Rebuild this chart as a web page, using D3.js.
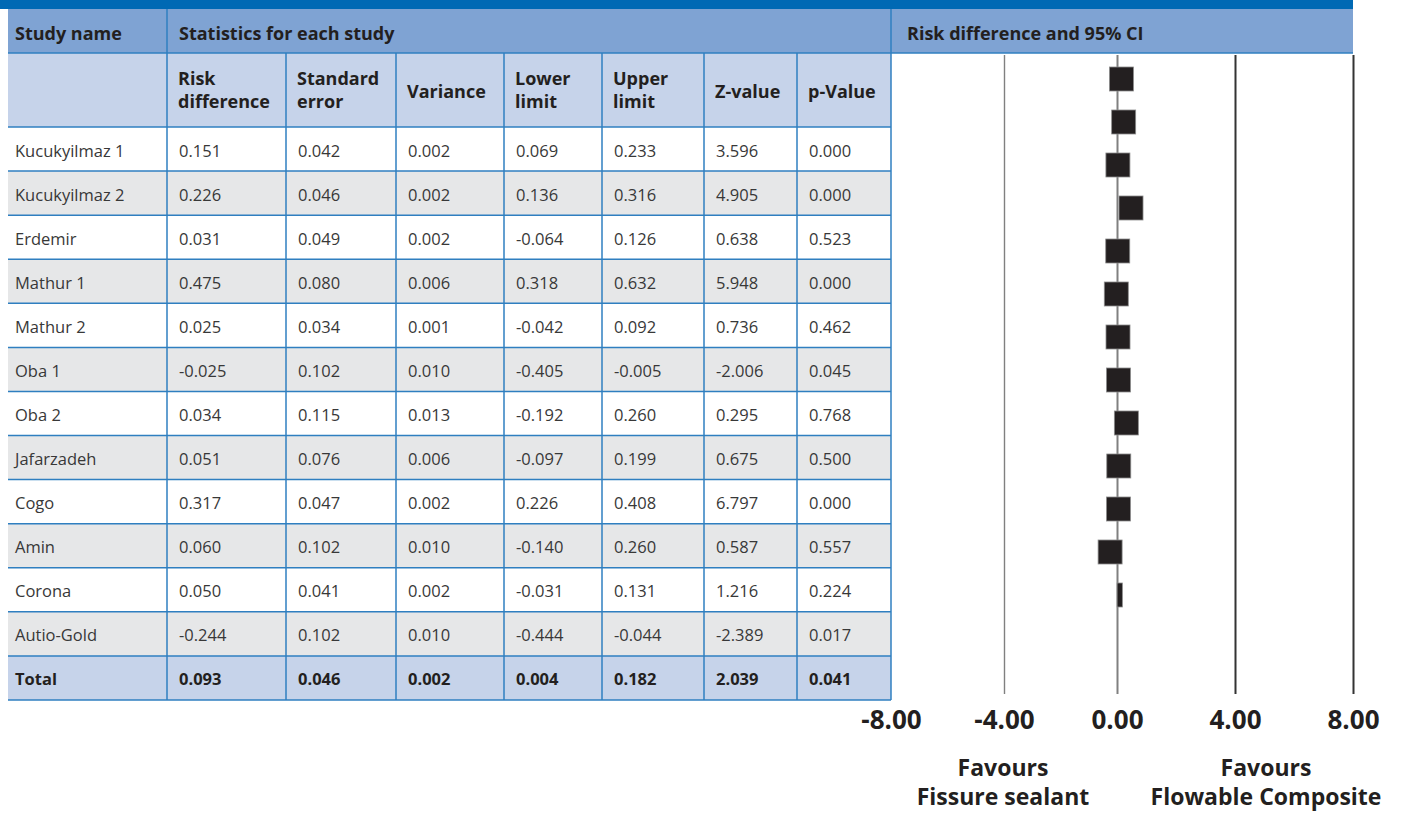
<!DOCTYPE html>
<html>
<head>
<meta charset="utf-8">
<script src="https://cdn.jsdelivr.net/npm/d3@7"></script>
<style>
  html, body { margin: 0; padding: 0; background: #fff; }
  svg { display: block; font-family: "Open Sans", "Noto Sans", sans-serif; }
</style>
</head>
<body>
<svg id="chart" width="1401" height="814"></svg>
<script>
// ---- Study data ----
const studies = ["Kucukyilmaz 1", "Kucukyilmaz 2", "Erdemir", "Mathur 1", "Mathur 2", "Oba 1",
  "Oba 2", "Jafarzadeh", "Cogo", "Amin", "Corona", "Autio-Gold"];
const riskDiff   = [0.151, 0.226, 0.031, 0.475, 0.025, -0.025, 0.034, 0.051, 0.317, 0.060, 0.050, -0.244];
const stdError   = [0.042, 0.046, 0.049, 0.080, 0.034, 0.102, 0.115, 0.076, 0.047, 0.102, 0.041, 0.102];
const variance   = [0.002, 0.002, 0.002, 0.006, 0.001, 0.010, 0.013, 0.006, 0.002, 0.010, 0.002, 0.010];
const lowerLimit = [0.069, 0.136, -0.064, 0.318, -0.042, -0.405, -0.192, -0.097, 0.226, -0.140, -0.031, -0.444];
const upperLimit = [0.233, 0.316, 0.126, 0.632, 0.092, -0.005, 0.260, 0.199, 0.408, 0.260, 0.131, -0.044];
const zValue     = [3.596, 4.905, 0.638, 5.948, 0.736, -2.006, 0.295, 0.675, 6.797, 0.587, 1.216, -2.389];
const pValue     = [0.000, 0.000, 0.523, 0.000, 0.462, 0.045, 0.768, 0.500, 0.000, 0.557, 0.224, 0.017];

// Pooled estimate
const totalLabel = "Total";
const totalValues = [0.093, 0.046, 0.002, 0.004, 0.182, 2.039, 0.041];

const columnHeaders = [["Risk", "difference"], ["Standard", "error"], ["Variance"], ["Lower", "limit"],
  ["Upper", "limit"], ["Z-value"], ["p-Value"]];
const axisTicks = [-8, -4, 0, 4, 8];
const favourLeft = ["Favours", "Fissure sealant"];
const favourRight = ["Favours", "Flowable Composite"];

// ---- Layout ----
const colEdges = [8, 167, 286, 396, 504, 602, 704, 797, 891];
const plotRight = 1353;
const C = {
  bar: "#0069b4", head1: "#7fa3d3", head2: "#c6d3ea", grey: "#e6e7e8",
  line: "#2f7fc0", text: "#231f20", body: "#383838", mark: "#231f20"
};

const fmtLocale = d3.formatLocale({ decimal: ".", thousands: ",", grouping: [3], currency: ["", ""], minus: "-" });
const f3 = fmtLocale.format(".3f");
const f2 = fmtLocale.format(".2f");

const svg = d3.select("#chart");

const rows = studies.map((s, i) => ({
  name: s,
  values: [riskDiff[i], stdError[i], variance[i], lowerLimit[i], upperLimit[i], zValue[i], pValue[i]],
  total: false
}));
rows.push({ name: totalLabel, values: totalValues, total: true });

// table body rows
const yRow = d3.scaleBand().domain(rows.map(r => r.name)).range([127, 700]).padding(0);

// ---- Header bands ----
svg.append("rect").attr("x", 0).attr("y", 0).attr("width", plotRight).attr("height", 9).attr("fill", C.bar);
svg.append("rect").attr("x", colEdges[0]).attr("y", 9).attr("width", plotRight - colEdges[0]).attr("height", 44).attr("fill", C.head1);
svg.append("rect").attr("x", colEdges[0]).attr("y", 53).attr("width", colEdges[8] - colEdges[0]).attr("height", 74).attr("fill", C.head2);

const headText = svg.append("g").attr("fill", C.text).attr("font-weight", 700).attr("font-size", 18);
headText.append("text").attr("x", 15).attr("y", 40).text("Study name");
headText.append("text").attr("x", colEdges[1] + 12).attr("y", 40).text("Statistics for each study");
headText.append("text").attr("x", colEdges[8] + 16).attr("y", 40).text("Risk difference and 95% CI");

columnHeaders.forEach((lines, j) => {
  const t = headText.append("text").attr("x", colEdges[j + 1] + 11);
  if (lines.length === 1) {
    t.attr("y", 98).text(lines[0]);
  } else {
    lines.forEach((l, k) => t.append("tspan").attr("x", colEdges[j + 1] + 11).attr("y", 85 + k * 23).text(l));
  }
});

// ---- Row backgrounds ----
svg.append("g").selectAll("rect").data(rows).join("rect")
  .attr("x", colEdges[0]).attr("width", colEdges[8] - colEdges[0])
  .attr("y", d => yRow(d.name)).attr("height", yRow.bandwidth())
  .attr("fill", (d, i) => d.total ? C.head2 : (i % 2 ? C.grey : "#ffffff"));

// ---- Row text ----
const body = svg.append("g").attr("font-size", 16.5);
const rowG = body.selectAll("g").data(rows).join("g")
  .attr("transform", d => `translate(0,${yRow(d.name) + yRow.bandwidth() / 2 + 7.5})`)
  .attr("font-weight", d => d.total ? 700 : 400)
  .attr("fill", d => d.total ? C.text : C.body);
rowG.append("text").attr("x", 15).text(d => d.name);
rowG.selectAll("text.v").data(d => d.values).join("text").attr("class", "v")
  .attr("x", (v, j) => colEdges[j + 1] + 12).text(v => f3(v));

// ---- Grid lines of the table ----
const grid = svg.append("g").attr("stroke", C.line).attr("stroke-width", 1.5).attr("fill", "none");
// horizontal
[53, 127].concat(rows.map(r => yRow(r.name) + yRow.bandwidth())).forEach(y => {
  grid.append("line").attr("x1", colEdges[0]).attr("x2", colEdges[8]).attr("y1", y).attr("y2", y);
});
grid.append("line").attr("x1", colEdges[8]).attr("x2", plotRight).attr("y1", 53).attr("y2", 53);
// vertical: first divider runs the full height, the rest start below the top header
grid.append("line").attr("x1", colEdges[1]).attr("x2", colEdges[1]).attr("y1", 9).attr("y2", 700);
colEdges.slice(2, 8).forEach(x => {
  grid.append("line").attr("x1", x).attr("x2", x).attr("y1", 53).attr("y2", 700);
});

// ---- Forest plot ----
const x = d3.scaleLinear().domain([-8, 0, 8]).range([colEdges[8], 1117, plotRight]);
const yPlot = d3.scalePoint().domain(rows.map(r => r.name)).range([79, 595]);
const axisY = 694;

const axis = d3.axisBottom(x).tickValues(axisTicks).tickFormat(f2)
  .tickSizeInner(-(axisY - 55)).tickSizeOuter(0).tickPadding(17);
const ax = svg.append("g").attr("transform", `translate(0,${axisY})`).call(axis);
ax.select(".domain").remove();
ax.selectAll(".tick line")
  .attr("stroke", d => d > 0 ? "#333333" : "#808080")
  .attr("stroke-width", d => d === -4 ? 1.4 : 2)
  .attr("opacity", d => d === -8 ? 0 : 1);
ax.selectAll(".tick text")
  .attr("font-family", "'Open Sans', sans-serif")
  .attr("font-size", 26).attr("font-weight", 700).attr("fill", C.text);

// study squares
const boxSize = 24;
svg.append("g").selectAll("rect").data(rows.filter(r => !r.total)).join("rect")
  .attr("x", d => x(d.values[0]) - boxSize / 2)
  .attr("y", d => yPlot(d.name) - boxSize / 2)
  .attr("width", boxSize).attr("height", boxSize)
  .attr("fill", C.mark).attr("stroke", "#8c8c8c").attr("stroke-width", 0.8);

// pooled estimate spans its confidence interval
const tot = rows.find(r => r.total);
svg.append("rect")
  .attr("x", x(tot.values[3])).attr("y", yPlot(tot.name) - boxSize / 2)
  .attr("width", Math.max(x(tot.values[4]) - x(tot.values[3]), 1)).attr("height", boxSize)
  .attr("fill", C.mark).attr("stroke", "#8c8c8c").attr("stroke-width", 0.8);

// right border of the table drawn over the -8 gridline
svg.append("line").attr("x1", colEdges[8]).attr("x2", colEdges[8]).attr("y1", 9).attr("y2", 700)
  .attr("stroke", C.line).attr("stroke-width", 1.5);

// ---- Favours captions ----
const fav = svg.append("g").attr("font-size", 23).attr("font-weight", 700).attr("fill", C.text).attr("text-anchor", "middle");
[[favourLeft, 1003], [favourRight, 1266]].forEach(([lines, cx]) => {
  lines.forEach((l, k) => fav.append("text").attr("x", cx).attr("y", 776 + k * 29).text(l));
});
</script>
</body>
</html>
